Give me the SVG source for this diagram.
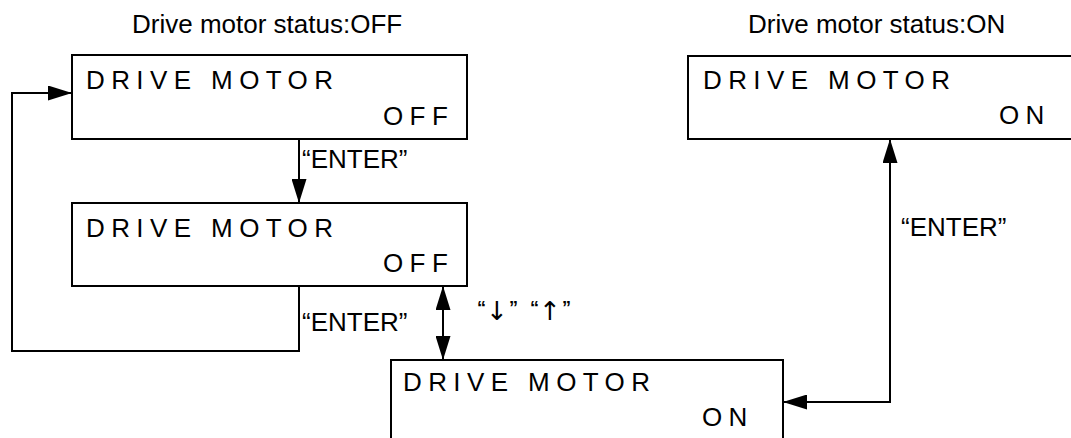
<svg xmlns="http://www.w3.org/2000/svg" width="1071" height="438" viewBox="0 0 1071 438">
<style>
.box{fill:#fff;stroke:#000;stroke-width:2}
.lcd{font-family:"Liberation Sans",Arial,sans-serif;font-size:26px;letter-spacing:6.4px;fill:#000}
.title{font-family:"Liberation Sans",Arial,sans-serif;font-size:26px;fill:#000}
.lbl{font-family:"Liberation Sans",Arial,sans-serif;font-size:26px;fill:#000}
.q{font-family:"Liberation Sans",Arial,sans-serif;font-size:18px;font-weight:bold;fill:#000}
.ar{font-family:"DejaVu Sans",sans-serif;font-size:26px;fill:#000}
.con{fill:none;stroke:#000;stroke-width:2}
</style>
<defs>
<marker id="ah" markerUnits="userSpaceOnUse" markerWidth="24" markerHeight="15" refX="24" refY="7.5" orient="auto-start-reverse">
<path d="M0,0 L24,7.5 L0,15 z" fill="#000"/>
</marker>
</defs>
<text class="title" x="132" y="33">Drive motor status:OFF</text>
<text class="title" x="748" y="33">Drive motor status:ON</text>
<g id="connectors">
<path class="con" d="M299,139 V203" marker-end="url(#ah)"/>
<path class="con" d="M299,286 V351 H12 V93 H72" marker-end="url(#ah)"/>
<path class="con" d="M443,286 V360" marker-start="url(#ah)" marker-end="url(#ah)"/>
<path class="con" d="M783,402 H890 V139" marker-start="url(#ah)" marker-end="url(#ah)"/>
<text class="lbl" x="302" y="168">“ENTER”</text>
<text class="lbl" x="302" y="331">“ENTER”</text>
<text class="lbl" x="901" y="236">“ENTER”</text>
<text class="q" x="477" y="314">“</text>
<text class="ar" x="486" y="320">↓</text>
<text class="q" x="509" y="314">”</text>
<text class="q" x="530" y="314">“</text>
<text class="ar" x="539" y="320">↑</text>
<text class="q" x="562" y="314">”</text>
</g>
<g id="n1">
<rect class="box" x="72" y="55" width="395" height="84"/>
<text class="lcd" x="86" y="89">DRIVE MOTOR</text>
<text class="lcd" x="383" y="125">OFF</text>
</g>
<g id="n2">
<rect class="box" x="72" y="203" width="395" height="83"/>
<text class="lcd" x="86" y="237">DRIVE MOTOR</text>
<text class="lcd" x="383" y="272">OFF</text>
</g>
<g id="n3">
<rect class="box" x="391" y="360" width="392" height="90"/>
<text class="lcd" x="403" y="391">DRIVE MOTOR</text>
<text class="lcd" x="702" y="426">ON</text>
</g>
<g id="n4">
<rect class="box" x="688" y="56" width="400" height="83"/>
<text class="lcd" x="703" y="89">DRIVE MOTOR</text>
<text class="lcd" x="999" y="124">ON</text>
</g>
</svg>
